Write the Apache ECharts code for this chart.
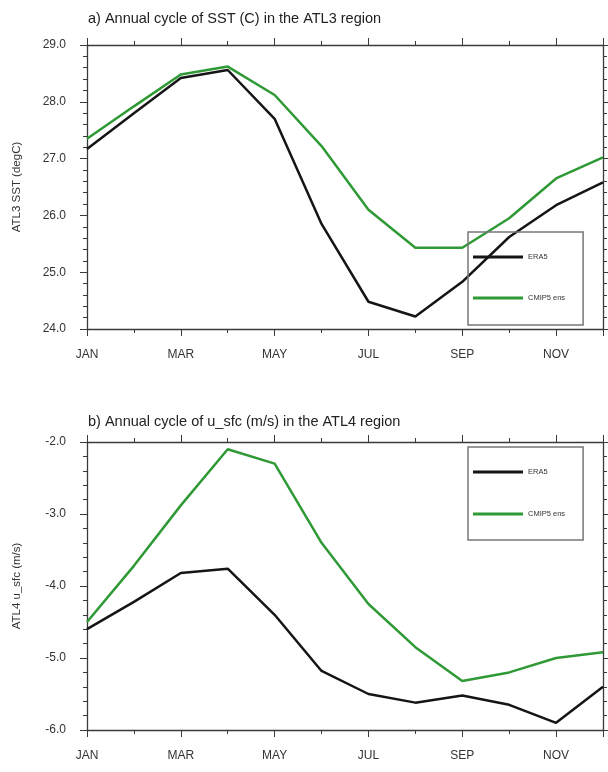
<!DOCTYPE html>
<html><head><meta charset="utf-8">
<script src="https://cdn.jsdelivr.net/npm/echarts@6/dist/echarts.min.js"></script>
<style>html,body{margin:0;padding:0;background:#fff}#c{width:608px;height:772px}</style>
</head><body><div id="c"></div>
<script>
const months = ['JAN','FEB','MAR','APR','MAY','JUN','JUL','AUG','SEP','OCT','NOV','DEC'];
const seriesNames = ['ERA5', 'CMIP5 ens'];
const sstEra5  = [27.17, 27.80, 28.42, 28.56, 27.70, 25.85, 24.48, 24.22, 24.83, 25.62, 26.18, 26.58];
const sstCmip5 = [27.35, 27.92, 28.48, 28.62, 28.12, 27.22, 26.10, 25.43, 25.43, 25.95, 26.65, 27.02];
const uEra5    = [-4.60, -4.22, -3.82, -3.76, -4.40, -5.18, -5.50, -5.62, -5.52, -5.65, -5.90, -5.40];
const uCmip5   = [-4.50, -3.72, -2.88, -2.10, -2.30, -3.40, -4.25, -4.85, -5.32, -5.20, -5.00, -4.92];
const sstTicks = [24, 25, 26, 27, 28, 29];
const uTicks   = [-6, -5, -4, -3, -2];
const titles = ['a) Annual cycle of SST (C) in the ATL3 region', 'b) Annual cycle of u_sfc (m/s) in the ATL4 region'];
const yNames = ['ATL3 SST (degC)', 'ATL4 u_sfc (m/s)'];

const FONT = 'Liberation Sans, Arial, Helvetica, sans-serif';
const AX = '#3a3a3a';
const BLACK = '#151515';
const GREEN = '#2f9a35';

function xAxis(g, pos, lab) {
  return {
    type: 'value', gridIndex: g, position: pos, min: 0, max: months.length - 1, interval: 2,
    axisLine: { show: true, onZero: false, lineStyle: { color: AX, width: 1.3 } },
    axisTick: { show: true, inside: false, length: 7, lineStyle: { color: AX, width: 1 } },
    minorTick: { show: true, splitNumber: 2, length: 4, lineStyle: { color: AX, width: 1 } },
    splitLine: { show: false },
    axisLabel: { show: lab, margin: 20, fontSize: 12, color: '#333', fontFamily: FONT,
      showMaxLabel: false, formatter: v => (v % 2 === 0 ? months[v] : '') }
  };
}
function yAxis(g, pos, ticks, lab, name) {
  return {
    type: 'value', gridIndex: g, position: pos, min: ticks[0], max: ticks[ticks.length - 1], interval: 1,
    name: lab ? name : '', nameLocation: 'middle', nameGap: 64, nameRotate: 90,
    nameTextStyle: { fontSize: 11.5, color: '#333', fontFamily: FONT },
    axisLine: { show: true, onZero: false, lineStyle: { color: AX, width: 1.3 } },
    axisTick: { show: true, inside: false, length: 7, lineStyle: { color: AX, width: 1 } },
    minorTick: { show: true, splitNumber: 5, length: 4, lineStyle: { color: AX, width: 1 } },
    splitLine: { show: false },
    axisLabel: { show: lab, margin: 21, fontSize: 12, color: '#333', fontFamily: FONT,
      formatter: v => v.toFixed(1) }
  };
}
const toPts = arr => arr.map((v, i) => [i, v]);
function line(name, data, color, xi, yi) {
  return { name, type: 'line', xAxisIndex: xi, yAxisIndex: yi, data: toPts(data),
    symbol: 'none', silent: true, animation: false,
    lineStyle: { color, width: 2.5 }, itemStyle: { color } };
}
function legend(top, gap, padBottom) {
  return { left: 468, top, orient: 'vertical', data: seriesNames, selectedMode: false,
    icon: 'rect', itemWidth: 50, itemHeight: 3, itemGap: gap, padding: [21, 18, padBottom, 5],
    borderColor: '#777', borderWidth: 1.5, borderRadius: 0,
    textStyle: { fontSize: 7.5, color: '#333', fontFamily: FONT } };
}

const chart = echarts.init(document.getElementById('c'), null, { renderer: 'canvas' });
chart.setOption({
  backgroundColor: '#fff',
  animation: false,
  title: [
    { text: titles[0], left: 83, top: 6, textStyle: { fontSize: 14.5, fontWeight: 'normal', color: '#222', fontFamily: FONT } },
    { text: titles[1], left: 83, top: 409, textStyle: { fontSize: 14.5, fontWeight: 'normal', color: '#222', fontFamily: FONT } }
  ],
  legend: [legend(232, 33, 23), legend(447, 34, 22)],
  grid: [
    { left: 87, top: 45, width: 516, height: 284 },
    { left: 87, top: 442, width: 516, height: 288 }
  ],
  xAxis: [xAxis(0, 'bottom', true), xAxis(0, 'top', false), xAxis(1, 'bottom', true), xAxis(1, 'top', false)],
  yAxis: [yAxis(0, 'left', sstTicks, true, yNames[0]), yAxis(0, 'right', sstTicks, false),
          yAxis(1, 'left', uTicks, true, yNames[1]), yAxis(1, 'right', uTicks, false)],
  series: [
    line(seriesNames[0], sstEra5, BLACK, 0, 0),
    line(seriesNames[1], sstCmip5, GREEN, 0, 0),
    line(seriesNames[0], uEra5, BLACK, 2, 2),
    line(seriesNames[1], uCmip5, GREEN, 2, 2)
  ]
});
</script></body></html>
